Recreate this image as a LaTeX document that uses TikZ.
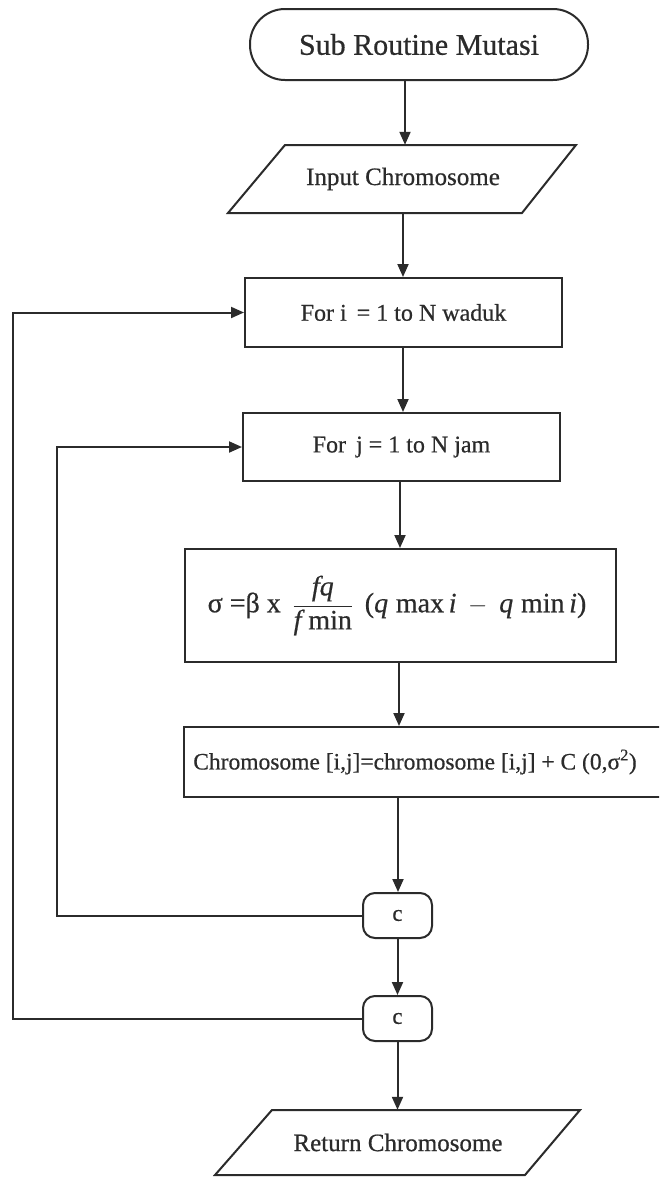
\documentclass[tikz,border=0pt]{standalone}
\usepackage{fontspec}
\setmainfont[FakeBold=0.6]{Liberation Serif}
\usetikzlibrary{arrows.meta,calc}
\definecolor{ink}{HTML}{2B2B2B}
\tikzset{
  line/.style={draw=ink, line width=2pt},
  arr/.style={line, -{Triangle[length=13pt,width=11pt]}},
  txt/.style={text=ink, inner sep=0pt},
  box/.style={line, rectangle, inner sep=0pt, text=ink, font=\fontsize{24}{28}\selectfont},
  term/.style={line, rounded corners=35pt, inner sep=0pt, text=ink, font=\fontsize{30}{34}\selectfont},
  conn/.style={line, rounded corners=12pt, inner sep=0pt, text=ink, minimum width=69pt, minimum height=45pt, font=\fontsize{23}{26}\selectfont},
}
\begin{document}
\begin{tikzpicture}[x=1pt,y=-1pt]
\useasboundingbox (0,0) rectangle (659,1178);
\clip (0,0) rectangle (659,1178);
% nodes
\node[term, minimum width=338pt, minimum height=71pt] (start) at (419,44.5) {Sub Routine Mutasi};
\node[txt, minimum width=290pt, minimum height=68pt, font=\fontsize{25}{29}\selectfont] (inp) at (403,179) {Input Chromosome};
\draw[line] (285,145) -- (576,145) -- (522,213) -- (228,213) -- cycle;
\node[box, minimum width=317pt, minimum height=69pt] (fori) at (403.5,312.5) {For i \,= 1 to N waduk};
\node[box, minimum width=317pt, minimum height=68pt] (forj) at (401.5,447) {For \,j = 1 to N jam};
\node[box, minimum width=431pt, minimum height=113pt] (sigma) at (400.5,605.5) {};
\node[txt, font=\fontsize{28}{32}\selectfont] (sigmatext) at (397,605.5)
  {σ =β x\, $\displaystyle\frac{\textit{fq}\rule[-6pt]{0pt}{6pt}}{\textit{f}\;\mbox{min}}$\, (\textit{q}\;max\,\textit{i}\, $-$\, \textit{q}\;min\,\textit{i})};
\node[line, rectangle, anchor=west, minimum width=520pt, minimum height=70pt] (chrom) at (183,762) {};
\node[txt, font=\fontsize{23.5}{28}\selectfont] (chromtext) at (415,762) {Chromosome [i,j]=chromosome [i,j] + C (0,σ\textsuperscript{2})};
\node[conn] (c1) at (397.5,915.5) {c};
\node[conn] (c2) at (397.5,1018.5) {c};
\node[txt, minimum width=300pt, minimum height=65pt, font=\fontsize{25}{29}\selectfont] (ret) at (398,1142.5) {Return Chromosome};
\draw[line] (272,1110) -- (580,1110) -- (525,1175) -- (215,1175) -- cycle;
% columns
\coordinate (k1) at (405,0);
\coordinate (k2) at (403,0);
\coordinate (k3) at (400,0);
\coordinate (k4) at (399,0);
\coordinate (k5) at (398,0);
\coordinate (k6) at (397.5,0);
\coordinate (inner) at (57,0);
\coordinate (outer) at (13,0);
% connectors
\draw[arr] (start.south -| k1) -- (inp.north -| k1);
\draw[arr] (inp.south -| k2) -- (fori.north -| k2);
\draw[arr] (fori.south -| k2) -- (forj.north -| k2);
\draw[arr] (forj.south -| k3) -- (sigma.north -| k3);
\draw[arr] (sigma.south -| k4) -- (chrom.north -| k4);
\draw[arr] (chrom.south -| k5) -- (c1.north -| k5);
\draw[arr] (c1.south) -- (c2.north);
\draw[arr] (c2.south) -- (ret.north -| k6);
\draw[arr] (c1.west) -- (c1.west -| inner) -- (inner |- forj.west) -- (forj.west);
\draw[arr] (c2.west) -- (c2.west -| outer) -- (outer |- fori.west) -- (fori.west);
\end{tikzpicture}
\end{document}
